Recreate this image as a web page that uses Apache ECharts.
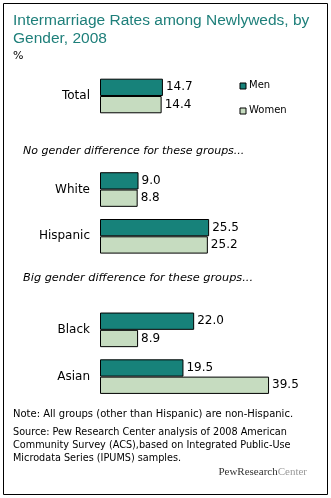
<!DOCTYPE html>
<html><head><meta charset="utf-8">
<script src="https://cdn.jsdelivr.net/npm/echarts@6/dist/echarts.min.js"></script>
<style>html,body{margin:0;padding:0;background:#fff}#c{width:331px;height:498px}</style>
</head><body><div id="c"></div>
<script>
const categories = ['Total', '', 'White', 'Hispanic', '', 'Black', 'Asian'];
const men = [14.7, null, 9.0, 25.5, null, 22.0, 19.5];
const women = [14.4, null, 8.8, 25.2, null, 8.9, 39.5];
const seriesNames = ['Men', 'Women'];

const FONT = '"DejaVu Sans", Verdana, sans-serif';
const chart = echarts.init(document.getElementById('c'));
const lbl = {show: true, position: 'right', distance: 3, color: '#000', fontFamily: FONT, fontSize: 12,
  formatter: p => p.value == null ? '' : p.value.toFixed(1)};
chart.setOption({
  animation: false,
  grid: {left: 100, right: 17, top: 72.6, bottom: 98},
  xAxis: {type: 'value', min: 0, max: 50, show: false},
  yAxis: {type: 'category', data: categories, inverse: true,
    axisLine: {show: false}, axisTick: {show: false}, splitLine: {show: false},
    axisLabel: {color: '#000', fontFamily: FONT, fontSize: 12, margin: 10}},
  legend: {show: false},
  series: [
    {name: seriesNames[0], type: 'bar', data: men, barWidth: 17.3, barGap: '0%',
     itemStyle: {color: '#17827a', borderColor: '#000', borderWidth: 1}, label: lbl},
    {name: seriesNames[1], type: 'bar', data: women, barWidth: 17.3,
     itemStyle: {color: '#c6dcc0', borderColor: '#000', borderWidth: 1}, label: lbl}
  ],
  graphic: [
    {type: 'rect', shape: {x: 3.5, y: 3.5, width: 324, height: 491}, style: {fill: 'none', stroke: '#000', lineWidth: 1}},
    {type: 'text', left: 13, top: 12, style: {text: 'Intermarriage Rates among Newlyweds, by\nGender, 2008', fill: '#1e7f7a', font: '15.5px "Liberation Sans", Arial, sans-serif', lineHeight: 18}},
    {type: 'text', left: 13, top: 51, style: {text: '%', fill: '#000', font: '11px ' + FONT}},
    {type: 'rect', shape: {x: 240, y: 83, width: 6, height: 6}, style: {fill: '#17827a', stroke: '#000', lineWidth: 1}},
    {type: 'text', left: 249, top: 80, style: {text: 'Men', fill: '#000', font: '10px ' + FONT}},
    {type: 'rect', shape: {x: 240, y: 108, width: 6, height: 6}, style: {fill: '#c6dcc0', stroke: '#000', lineWidth: 1}},
    {type: 'text', left: 249, top: 105, style: {text: 'Women', fill: '#000', font: '10px ' + FONT}},
    {type: 'text', left: 23, top: 146, style: {text: 'No gender difference for these groups...', fill: '#000', font: 'italic 11px ' + FONT}},
    {type: 'text', left: 23, top: 273, style: {text: 'Big gender difference for these groups...', fill: '#000', font: 'italic 11.3px ' + FONT}},
    {type: 'text', left: 13, top: 409, style: {text: 'Note: All groups (other than Hispanic) are non-Hispanic.', fill: '#000', font: '10px ' + FONT}},
    {type: 'text', left: 13, top: 426, style: {text: 'Source: Pew Research Center analysis of 2008 American\nCommunity Survey (ACS),based on Integrated Public-Use\nMicrodata Series (IPUMS) samples.', fill: '#000', font: '9.7px ' + FONT, lineHeight: 13}},
    {type: 'text', right: 24, top: 467, style: {rich: {a: {fill: '#333', font: '11px "Liberation Serif", serif'}, b: {fill: '#999', font: '11px "Liberation Serif", serif'}}, text: '{a|PewResearch}{b|Center}'}}
  ]
});
</script></body></html>
